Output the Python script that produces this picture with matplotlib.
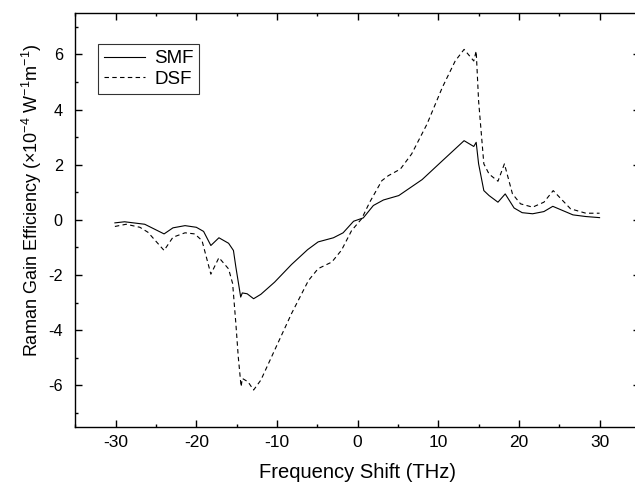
import matplotlib
matplotlib.use("Agg")
import matplotlib.pyplot as plt
from matplotlib.ticker import MultipleLocator

plt.rcParams['font.family'] = ['Liberation Sans', 'DejaVu Sans']
plt.rcParams['axes.unicode_minus'] = False
plt.rcParams['mathtext.default'] = 'regular'

# SMF (solid) curve
smf_x = [-30.1, -28.9, -26.4, -24.0, -22.9, -21.4, -20.0, -19.1, -18.2, -17.2,
         -16.0, -15.4, -15.1, -14.5, -14.3, -13.7, -12.9, -12.0, -10.3, -8.2,
         -6.2, -4.9, -3.0, -1.8, -0.5, 0.7, 1.95, 3.2, 5.1, 8.0,
         10.5, 13.2, 14.4, 14.7, 15.0, 15.65, 16.3, 17.4, 18.3, 19.4,
         20.4, 21.7, 23.1, 24.2, 26.7, 28.3, 30.0]
smf_y = [-0.11, -0.07, -0.16, -0.51, -0.29, -0.21, -0.27, -0.42, -0.93, -0.65,
         -0.85, -1.11, -1.71, -2.80, -2.65, -2.68, -2.86, -2.70, -2.26, -1.62,
         -1.08, -0.80, -0.65, -0.47, -0.05, 0.07, 0.52, 0.72, 0.88, 1.46,
         2.14, 2.87, 2.66, 2.81, 2.03, 1.06, 0.88, 0.64, 0.94, 0.43,
         0.26, 0.22, 0.30, 0.49, 0.18, 0.12, 0.08]

# DSF (dashed) curve
dsf_x = [-30.1, -28.7, -27.0, -26.0, -24.0, -22.9, -21.4, -20.2, -19.3, -18.2,
         -17.2, -16.0, -15.5, -15.1, -14.8, -14.45, -14.3, -13.6, -12.9, -12.0,
         -10.3, -8.2, -6.1, -4.9, -3.2, -2.0, -0.75, 0.5, 1.5, 3.0,
         3.8, 5.3, 6.7, 8.6, 10.5, 12.1, 13.2, 14.4, 14.7, 15.0,
         15.65, 16.3, 17.4, 18.2, 19.2, 20.2, 21.7, 23.1, 24.25, 26.4,
         28.3, 30.0]
dsf_y = [-0.24, -0.16, -0.27, -0.45, -1.11, -0.63, -0.47, -0.51, -0.75, -1.97,
         -1.37, -1.78, -2.31, -3.76, -4.97, -6.05, -5.75, -5.87, -6.17, -5.81,
         -4.73, -3.40, -2.20, -1.77, -1.53, -1.10, -0.39, 0.04, 0.64, 1.42,
         1.60, 1.84, 2.39, 3.47, 4.80, 5.76, 6.18, 5.76, 6.12, 4.31,
         2.03, 1.66, 1.40, 2.03, 0.94, 0.58, 0.46, 0.64, 1.06, 0.40,
         0.24, 0.24]

fig = plt.figure(figsize=(6.35, 4.86), dpi=100)
# right edge of the frame falls just outside the picture, as in the original
ax = fig.add_axes([0.1187, 0.122, 0.889, 0.8513])

ax.plot(smf_x, smf_y, color='black', lw=0.8, label='SMF')
ax.plot(dsf_x, dsf_y, color='black', lw=0.8, ls=(0, (4, 3)), label='DSF')

ax.set_xlim(-35, 35)
ax.set_ylim(-7.5, 7.5)
ax.xaxis.set_minor_locator(MultipleLocator(5))
ax.yaxis.set_major_locator(MultipleLocator(2))
ax.yaxis.set_minor_locator(MultipleLocator(1))
ax.set_xticks(range(-30, 31, 10))
ax.tick_params(which='both', direction='in', top=True, right=True, width=1.0)
ax.tick_params(which='major', length=5)
ax.tick_params(which='minor', length=2.5)
ax.tick_params(axis='x', labelsize=12.5, pad=6)
ax.tick_params(axis='y', labelsize=11.7, pad=9)
for s in ax.spines.values():
    s.set_linewidth(1.0)
ax.spines['right'].set_visible(False)

ax.set_xlabel('Frequency Shift (THz)', fontsize=14.5, labelpad=9)
ax.set_ylabel('Raman Gain Efficiency (×10$^{-4}$ W$^{-1}$m$^{-1}$)', fontsize=13)
ax.yaxis.set_label_coords(-0.055, 0.548)

leg = ax.legend(loc='upper left', bbox_to_anchor=(0.04, 0.924), fontsize=13.5,
                frameon=True, fancybox=False, edgecolor='black',
                borderaxespad=0, handlelength=2.2, handletextpad=0.5,
                borderpad=0.3, labelspacing=0.2)
leg.get_frame().set_linewidth(0.8)

fig.savefig('out.png', dpi=100)
